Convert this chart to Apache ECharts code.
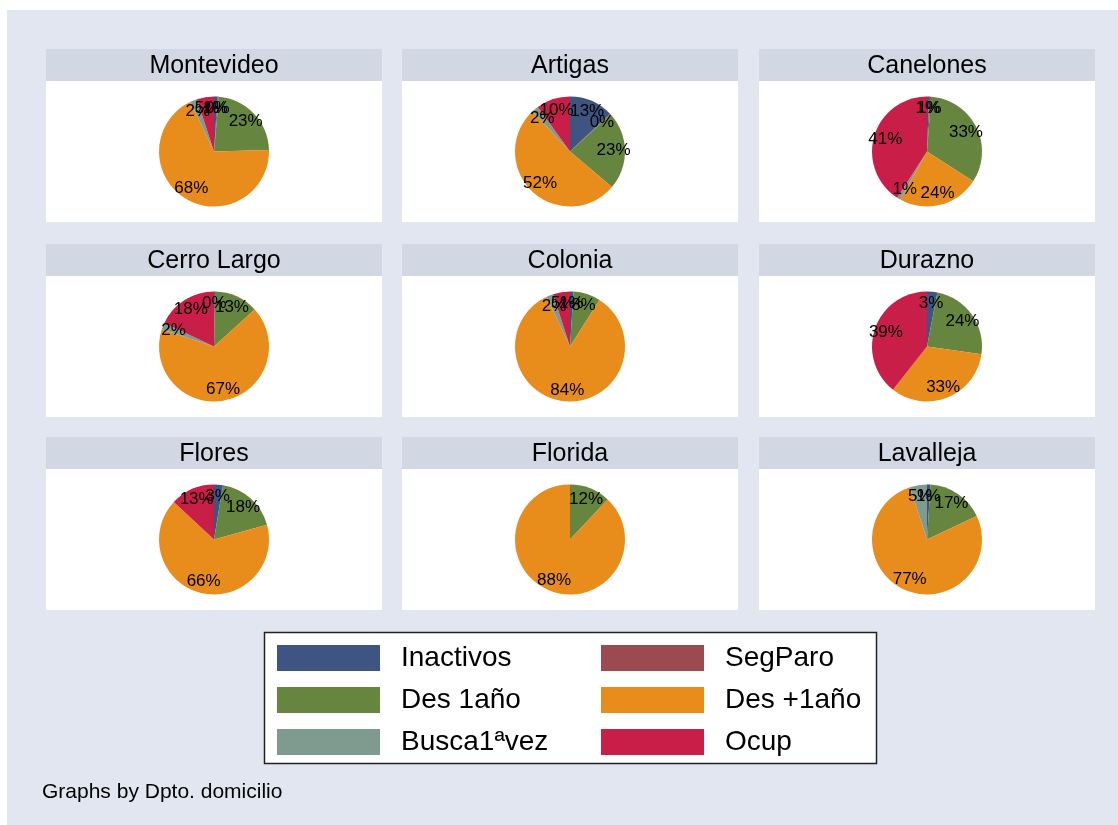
<!DOCTYPE html>
<html>
<head>
<meta charset="utf-8">
<script src="https://cdn.jsdelivr.net/npm/echarts@6/dist/echarts.min.js"></script>
<style>
  html, body { margin: 0; padding: 0; background: #fff; }
  #chart { width: 1118px; height: 825px; }
</style>
</head>
<body>
<div id="chart"></div>
<script>
// Pie grid: labour status share by department, Stata-like layout (3x3 panels + legend box).

const departments = ['Montevideo', 'Artigas', 'Canelones', 'Cerro Largo', 'Colonia', 'Durazno', 'Flores', 'Florida', 'Lavalleja'];
const statusNames = ['Inactivos', 'SegParo', 'Des 1año', 'Des +1año', 'Busca1ªvez', 'Ocup'];

// share (%) per department, same order as departments
const inactivos = [1,   13,  0.6, 0.3, 1,  3,  2.6, 0,  1];
const segParo   = [0.4, 0.3, 0.6, 0,   0,  0,  0,   0,  0];
const des1      = [23,  23,  33,  13,  8,  24, 18,  12, 17];
const desMas1   = [68,  52,  24,  67,  84, 33, 66,  88, 77];
const busca     = [2,   2,   1,   2,   2,  0,  0,   0,  5];
const ocup      = [5,   10,  41,  18,  5,  39, 13,  0,  0];
const statusValues = [inactivos, segParo, des1, desMas1, busca, ocup];

const footNote = 'Graphs by Dpto. domicilio';

const COLORS = ['#3e5581', '#9a4a50', '#668640', '#e88c1c', '#7f9a8e', '#c81e48'];
const FONT = '"Liberation Sans", Arial, sans-serif';

// ─── panel geometry ─────────────────────────────────────────
const COL_X = [46, 402, 759];
const ROW_Y = [49, 244, 437];
const PANEL_W = 336;
const HEAD_H = 32;
const PLOT_H = 141;
const PIE_R = 55;

function pieData(d, transparent) {
  const out = [];
  statusNames.forEach((name, s) => {
    const v = statusValues[s][d];
    if (v > 0) out.push({ name, value: v, itemStyle: { color: transparent ? 'rgba(0,0,0,0)' : COLORS[s] } });
  });
  return out;
}

const graphic = [
  { type: 'rect', z: -10, shape: { x: 7, y: 10, width: 1111, height: 815 }, style: { fill: '#e1e6f0' } },
];
const pies = [];
const labelPies = [];

departments.forEach((dep, d) => {
  const x = COL_X[d % 3];
  const y = ROW_Y[Math.floor(d / 3)];
  graphic.push(
    { type: 'rect', z: -9, shape: { x, y, width: PANEL_W, height: HEAD_H }, style: { fill: '#d1d8e4' } },
    { type: 'rect', z: -9, shape: { x, y: y + HEAD_H, width: PANEL_W, height: PLOT_H }, style: { fill: '#ffffff' } },
    {
      type: 'text', z: -8, x: x + PANEL_W / 2, y: y + HEAD_H / 2 + 1,
      style: { text: dep, fill: '#000', font: '25px ' + FONT, align: 'center', verticalAlign: 'middle' },
    },
  );
  const center = [x + PANEL_W / 2, y + HEAD_H + PLOT_H / 2];
  pies.push({
    type: 'pie',
    center,
    radius: [0, PIE_R],
    startAngle: 90,
    clockwise: true,
    silent: true,
    animation: false,
    label: { show: false },
    labelLine: { show: false },
    itemStyle: { borderWidth: 0 },
    emphasis: { disabled: true },
    data: pieData(d, false),
  });
  // transparent ring only to put the % labels at ~0.7 of the radius
  labelPies.push({
    type: 'pie',
    center,
    radius: [26, PIE_R],
    startAngle: 90,
    clockwise: true,
    silent: true,
    animation: false,
    legendHoverLink: false,
    avoidLabelOverlap: false,
    itemStyle: { borderWidth: 0 },
    label: {
      show: true,
      position: 'inside',
      color: '#000',
      fontFamily: FONT,
      fontSize: 17,
      formatter: (p) => Math.round(p.value) + '%',
    },
    labelLayout: { hideOverlap: false },
    labelLine: { show: false },
    emphasis: { disabled: true },
    data: pieData(d, true),
  });
});

// legend box + note
graphic.push(
  { type: 'rect', z: -9, shape: { x: 264.5, y: 632.5, width: 612, height: 131 }, style: { fill: '#fff', stroke: '#222', lineWidth: 1.5 } },
  {
    type: 'text', z: -8, x: 42, y: 792,
    style: { text: footNote, fill: '#000', font: '21px ' + FONT, verticalAlign: 'middle' },
  },
);

function legendCol(names, left) {
  return {
    orient: 'vertical',
    left,
    top: 644,
    padding: 0,
    icon: 'rect',
    itemWidth: 103,
    itemHeight: 26,
    itemGap: 14,
    selectedMode: false,
    itemStyle: { borderWidth: 0 },
    textStyle: { fontFamily: FONT, fontSize: 28, color: '#000', lineHeight: 26, padding: [0, 0, 0, 16] },
    data: names,
  };
}

const chart = echarts.init(document.getElementById('chart'), null, { renderer: 'canvas' });
chart.setOption({
  backgroundColor: '#ffffff',
  animation: false,
  color: COLORS,
  legend: [
    legendCol([statusNames[0], statusNames[2], statusNames[4]], 277),
    legendCol([statusNames[1], statusNames[3], statusNames[5]], 601),
  ],
  graphic,
  series: pies.concat(labelPies),
});
</script>
</body>
</html>
